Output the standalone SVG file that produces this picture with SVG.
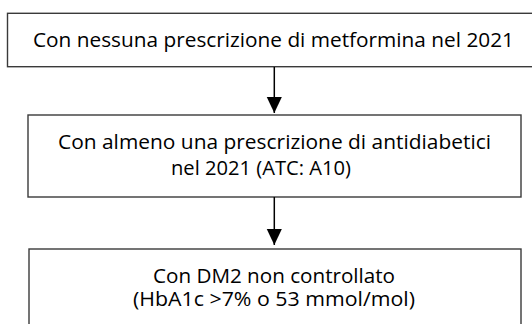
<svg xmlns="http://www.w3.org/2000/svg" width="532" height="324" viewBox="0 0 532 324">
<style>
.box{fill:#fff;stroke:#3a3a3a;stroke-width:1.4}
.lbl{font-family:"Open Sans","Noto Sans",sans-serif;font-size:20.5px;fill:#000;text-anchor:middle}
.conn{stroke:#000;stroke-width:1.5;fill:none}
</style>
<defs>
<marker id="ah" markerWidth="16" markerHeight="17" viewBox="0 0 17 16" refX="17" refY="8" orient="auto" markerUnits="userSpaceOnUse">
<path d="M0,0 L17,8 L0,16 Z" fill="#000"/>
</marker>
</defs>
<rect width="532" height="324" fill="#fff"/>
<g id="node1">
<rect class="box" x="7.5" y="13.3" width="530" height="53.4"/>
<text class="lbl" x="273.5" y="47" textLength="481" lengthAdjust="spacingAndGlyphs">Con nessuna prescrizione di metformina nel 2021</text>
</g>
<g id="node2">
<rect class="box" x="28" y="115" width="493" height="82"/>
<text class="lbl" x="274.5" y="148.5" textLength="433" lengthAdjust="spacingAndGlyphs">Con almeno una prescrizione di antidiabetici</text>
<text class="lbl" x="261" y="174.5" textLength="180" lengthAdjust="spacingAndGlyphs">nel 2021 (ATC: A10)</text>
</g>
<g id="node3">
<rect class="box" x="29" y="249" width="492" height="90"/>
<text class="lbl" x="274" y="283" textLength="242" lengthAdjust="spacingAndGlyphs">Con DM2 non controllato</text>
<text class="lbl" x="274" y="306" textLength="282" lengthAdjust="spacingAndGlyphs">(HbA1c &gt;7% o 53 mmol/mol)</text>
</g>
<g id="connectors">
<line class="conn" x1="274.3" y1="67" x2="274.3" y2="113" marker-end="url(#ah)"/>
<line class="conn" x1="274.3" y1="197" x2="274.3" y2="245" marker-end="url(#ah)"/>
</g>
</svg>
